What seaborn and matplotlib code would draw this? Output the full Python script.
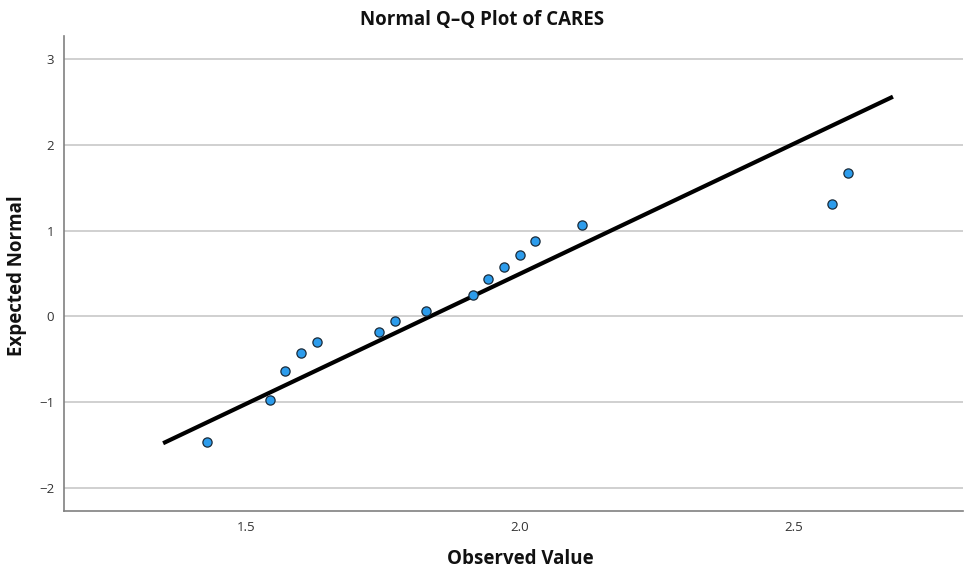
import matplotlib
matplotlib.use("Agg")
import matplotlib.pyplot as plt
import seaborn as sns
import pandas as pd

# Data
observed = [1.429, 1.544, 1.572, 1.600, 1.630, 1.743, 1.772, 1.829,
            1.915, 1.942, 1.971, 2.000, 2.028, 2.114, 2.570, 2.599]
expected = [-1.46, -0.97, -0.64, -0.43, -0.30, -0.18, -0.06, 0.06,
            0.25, 0.43, 0.57, 0.71, 0.88, 1.07, 1.31, 1.67]
line_x = [1.349, 2.682]
line_y = [-1.48, 2.562]
x_ticks = [1.5, 2.0, 2.5]
y_ticks = [-2, -1, 0, 1, 2, 3]

df = pd.DataFrame({"Observed Value": observed, "Expected Normal": expected})
line_df = pd.DataFrame({"x": line_x, "y": line_y})

sns.set_theme(style="white")
plt.rcParams['font.family'] = ['Open Sans', 'DejaVu Sans']

fig = plt.figure(figsize=(9.64, 5.74), dpi=100)
ax = fig.add_axes([0.0664, 0.1098, 0.9326, 0.8275])

for t in y_ticks:
    ax.axhline(t, color="#c8c8c8", lw=1.2, zorder=0)

sns.lineplot(data=line_df, x="x", y="y", ax=ax, color="black", lw=3,
             zorder=2, solid_capstyle="butt")
sns.scatterplot(data=df, x="Observed Value", y="Expected Normal", ax=ax,
                color="#2c9cec", edgecolor="#1a2b3a", linewidth=0.9, s=44, zorder=3)

ax.set_xlim(1.168, 2.81)
ax.set_ylim(-2.27, 3.27)
ax.set_xticks(x_ticks)
ax.set_xticklabels([f"{v:.1f}" for v in x_ticks])
ax.set_yticks(y_ticks)
ax.set_yticklabels([str(v).replace("-", "\u2212") for v in y_ticks])
ax.tick_params(axis="both", length=0, labelsize=9.5, colors="#333333", pad=7)

for s in ["top", "right"]:
    ax.spines[s].set_visible(False)
for s in ["left", "bottom"]:
    ax.spines[s].set_color("#808080")
    ax.spines[s].set_linewidth(1.2)

ax.set_xlabel("")
ax.set_ylabel("")
fig.text(0.5, 0.965, "Normal Q\u2013Q Plot of CARES", ha="center", va="center",
         fontsize=13.5, fontweight="bold", color="#111111")
fig.text(0.54, 0.027, "Observed Value", ha="center", va="center",
         fontsize=13.5, fontweight="bold", color="#111111")
fig.text(0.018, 0.52, "Expected Normal", ha="center", va="center", rotation=90,
         fontsize=13.5, fontweight="bold", color="#111111")

fig.savefig("out.png", dpi=100, facecolor="white")
